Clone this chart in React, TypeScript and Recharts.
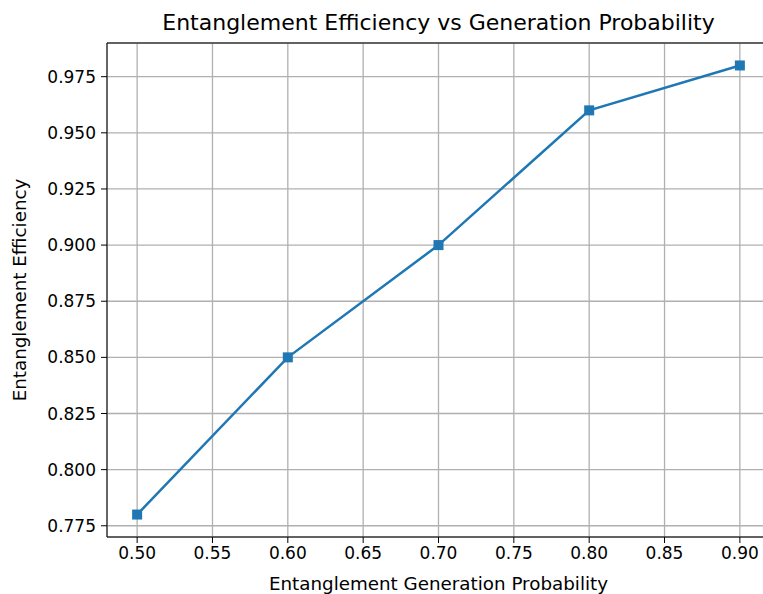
import React from 'react'
import { LineChart, Line, XAxis, YAxis, CartesianGrid, ReferenceLine } from 'recharts'

// Values
const probabilities = [0.5, 0.6, 0.7, 0.8, 0.9]
const efficiencies = [0.78, 0.85, 0.9, 0.96, 0.98]
const xTicks = [0.5, 0.55, 0.6, 0.65, 0.7, 0.75, 0.8, 0.85, 0.9]
const yTicks = [0.775, 0.8, 0.825, 0.85, 0.875, 0.9, 0.925, 0.95, 0.975]

const data = probabilities.map((p, i) => ({ p, eff: efficiencies[i] }))

const FONT = 'DejaVu Sans, sans-serif'
const BLUE = '#1f77b4'

const SquareDot = (props: any) => {
  const { cx, cy } = props
  if (cx == null || cy == null) return null
  return <rect x={cx - 5} y={cy - 5} width={10} height={10} fill={BLUE} />
}

const App = () => {
  return (
    <div style={{ position: 'fixed', left: 0, top: 0, width: 763, height: 594, overflow: 'hidden', background: '#fff', fontFamily: FONT }}>
      <div style={{ position: 'absolute', left: 0, width: 877, top: 10, textAlign: 'center', fontSize: 22, color: '#000', lineHeight: '26px' }}>
        Entanglement Efficiency vs Generation Probability
      </div>
      <LineChart width={800} height={594} data={data} margin={{ top: 43, right: 30, bottom: 0, left: 0 }}>
        <CartesianGrid stroke="#b0b0b0" strokeWidth={1.3} />
        <XAxis
          dataKey="p"
          type="number"
          domain={[0.48, 0.92]}
          ticks={xTicks}
          tickFormatter={(v: number) => v.toFixed(2)}
          height={57}
          tickSize={6}
          tickMargin={4}
          stroke="#000"
          tick={{ fill: '#000', fontSize: 17, fontFamily: FONT }}
          allowDataOverflow
          label={{ value: 'Entanglement Generation Probability', position: 'insideBottom', offset: 4, fill: '#000', fontSize: 18.3, fontFamily: FONT }}
        />
        <YAxis
          type="number"
          domain={[0.77, 0.99]}
          ticks={yTicks}
          tickFormatter={(v: number) => v.toFixed(3)}
          width={107}
          tickSize={6}
          tickMargin={5}
          stroke="#000"
          tick={{ fill: '#000', fontSize: 17, fontFamily: FONT }}
          allowDataOverflow
          label={{ value: 'Entanglement Efficiency', angle: -90, position: 'insideLeft', offset: 20, fill: '#000', fontSize: 18.3, fontFamily: FONT, style: { textAnchor: 'middle' } }}
        />
        <ReferenceLine y={0.99} stroke="#000" strokeWidth={1} />
        <Line
          dataKey="eff"
          stroke={BLUE}
          strokeWidth={2.5}
          dot={<SquareDot />}
          activeDot={false}
          isAnimationActive={false}
        />
      </LineChart>
    </div>
  )
}

export default App
